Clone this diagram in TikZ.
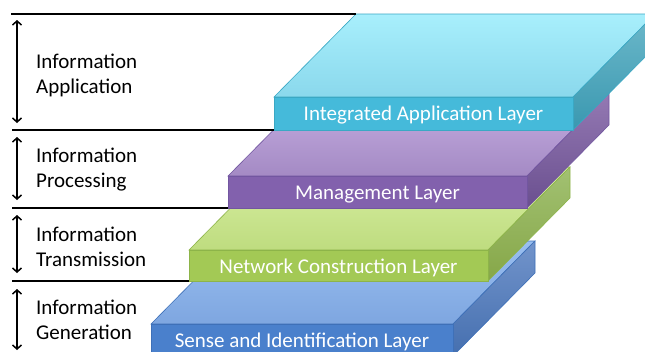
\documentclass[tikz,border=0pt]{standalone}
\usepackage{fontspec}
\setmainfont{Carlito}
\usetikzlibrary{arrows.meta}

\definecolor{cyanTop}{HTML}{A8EFFC}
\definecolor{cyanTopDark}{HTML}{8AD8EC}
\definecolor{cyanFront}{HTML}{45BADA}
\definecolor{cyanSide}{HTML}{6CB8CA}
\definecolor{cyanSideDark}{HTML}{3A98B0}
\definecolor{cyanEdge}{HTML}{3AA8C4}
\definecolor{purpleTop}{HTML}{C6AEE2}
\definecolor{purpleTopDark}{HTML}{A48AC4}
\definecolor{purpleFront}{HTML}{8261AD}
\definecolor{purpleSide}{HTML}{9479B3}
\definecolor{purpleSideDark}{HTML}{6A4F8F}
\definecolor{purpleEdge}{HTML}{7256A0}
\definecolor{greenTop}{HTML}{D8EFA3}
\definecolor{greenTopDark}{HTML}{BEDC7F}
\definecolor{greenFront}{HTML}{A3C955}
\definecolor{greenSide}{HTML}{A2C172}
\definecolor{greenSideDark}{HTML}{86A748}
\definecolor{greenEdge}{HTML}{8DB449}
\definecolor{blueTop}{HTML}{9ABFF0}
\definecolor{blueTopDark}{HTML}{7EA6E0}
\definecolor{blueFront}{HTML}{4A80CC}
\definecolor{blueSide}{HTML}{7294CB}
\definecolor{blueSideDark}{HTML}{456FAF}
\definecolor{blueEdge}{HTML}{3E70B8}

\begin{document}
\begin{tikzpicture}[x=1pt,y=-1pt,
    rule/.style={line width=2pt},
    span/.style={line width=1.5pt,
        {Straight Barb[length=4pt,width=9pt]}-{Straight Barb[length=4pt,width=9pt]}},
    levelname/.style={anchor=west,align=left,inner sep=0pt,
        font=\fontsize{21}{25}\selectfont},
    layername/.style={anchor=base,yshift=-23.3pt,text=white,
        font=\fontsize{21}{25}\selectfont},
    face/.style={line width=0.6pt}]

    \useasboundingbox (0,0) rectangle (645,351);
    \clip (0,0) rectangle (645,351);

    % --- Define Coordinates ---
    % Every slab: front face about 300 wide and 32 high,
    % its back edge lies 82 to the right and 83 higher.

    % Sense and Identification Layer (bottom)
    \coordinate (Sa) at (151,324);
    \coordinate (Sb) at (453,324);
    \coordinate (Sc) at (453,356);
    \coordinate (Sd) at (151,356);
    \coordinate (Se) at (233,241);
    \coordinate (Sf) at (535,241);
    \coordinate (Sg) at (535,273);

    % Network Construction Layer
    \coordinate (Na) at (189,250);
    \coordinate (Nb) at (488,250);
    \coordinate (Nc) at (488,281);
    \coordinate (Nd) at (189,281);
    \coordinate (Ne) at (271,167);
    \coordinate (Nf) at (570,167);
    \coordinate (Ng) at (570,198);

    % Management Layer
    \coordinate (Ma) at (228,176);
    \coordinate (Mb) at (527,176);
    \coordinate (Mc) at (527,208);
    \coordinate (Md) at (228,208);
    \coordinate (Me) at (310,93);
    \coordinate (Mf) at (609,93);
    \coordinate (Mg) at (609,125);

    % Integrated Application Layer (top)
    \coordinate (Ia) at (274,97);
    \coordinate (Ib) at (573,97);
    \coordinate (Ic) at (573,130);
    \coordinate (Id) at (274,130);
    \coordinate (Ie) at (356,14);
    \coordinate (If) at (655,14);
    \coordinate (Ig) at (655,47);

    % Left ends of the rules and ends of the arrows
    \coordinate (R1) at (11,14);
    \coordinate (R2) at (12,130);
    \coordinate (R3) at (12,208);
    \coordinate (R4) at (12,281);
    \coordinate (A1) at (17,20);
    \coordinate (B1) at (17,123);
    \coordinate (A2) at (17,137);
    \coordinate (B2) at (17,200);
    \coordinate (A3) at (17,215);
    \coordinate (B3) at (17,273);
    \coordinate (A4) at (17,289);
    \coordinate (B4) at (17,350);

    % --- Drawing the Slabs (lowest first) ---

    % Sense and Identification Layer
    \draw[face,draw=blueEdge,top color=blueTop,bottom color=blueTopDark]
        (Sa) -- (Sb) -- (Sf) -- (Se) -- cycle;
    \draw[face,draw=blueEdge,top color=blueSide,bottom color=blueSideDark]
        (Sb) -- (Sf) -- (Sg) -- (Sc) -- cycle;
    \draw[face,draw=blueEdge,fill=blueFront] (Sa) -- (Sb) -- (Sc) -- (Sd) -- cycle;

    % Network Construction Layer
    \draw[face,draw=greenEdge,top color=greenTop,bottom color=greenTopDark]
        (Na) -- (Nb) -- (Nf) -- (Ne) -- cycle;
    \draw[face,draw=greenEdge,top color=greenSide,bottom color=greenSideDark]
        (Nb) -- (Nf) -- (Ng) -- (Nc) -- cycle;
    \draw[face,draw=greenEdge,fill=greenFront] (Na) -- (Nb) -- (Nc) -- (Nd) -- cycle;

    % Management Layer
    \draw[face,draw=purpleEdge,top color=purpleTop,bottom color=purpleTopDark]
        (Ma) -- (Mb) -- (Mf) -- (Me) -- cycle;
    \draw[face,draw=purpleEdge,top color=purpleSide,bottom color=purpleSideDark]
        (Mb) -- (Mf) -- (Mg) -- (Mc) -- cycle;
    \draw[face,draw=purpleEdge,fill=purpleFront] (Ma) -- (Mb) -- (Mc) -- (Md) -- cycle;

    % Integrated Application Layer
    \draw[face,draw=cyanEdge,top color=cyanTop,bottom color=cyanTopDark]
        (Ia) -- (Ib) -- (If) -- (Ie) -- cycle;
    \draw[face,draw=cyanEdge,top color=cyanSide,bottom color=cyanSideDark]
        (Ib) -- (If) -- (Ig) -- (Ic) -- cycle;
    \draw[face,draw=cyanEdge,fill=cyanFront] (Ia) -- (Ib) -- (Ic) -- (Id) -- cycle;

    % --- Layer Names on the front faces ---
    \path (Sa) -- (Sb) node[midway,layername] (Sname) {Sense and Identification Layer};
    \path (Na) -- (Nb) node[midway,layername] (Nname) {Network Construction Layer};
    \path (Ma) -- (Mb) node[midway,layername] (Mname) {Management Layer};
    \path (Ia) -- (Ib) node[midway,layername] (Iname) {Integrated Application Layer};

    % --- Rules and Arrows on the left ---
    \draw[rule] (R1) -- (Ie);
    \draw[rule] (R2) -- (Id);
    \draw[rule] (R3) -- (Md);
    \draw[rule] (R4) -- (Nd);

    \draw[span] (A1) -- (B1);
    \draw[span] (A2) -- (B2);
    \draw[span] (A3) -- (B3);
    \draw[span] (A4) -- (B4);

    % --- Labels ---
    \node[levelname] (app) at (36,75) {Information\\Application};
    \node[levelname] (proc) at (36,170) {Information\\Processing};
    \node[levelname] (trans) at (36,247) {Information\\Transmission};
    \node[levelname] (gen) at (36,320) {Information\\Generation};

\end{tikzpicture}
\end{document}
